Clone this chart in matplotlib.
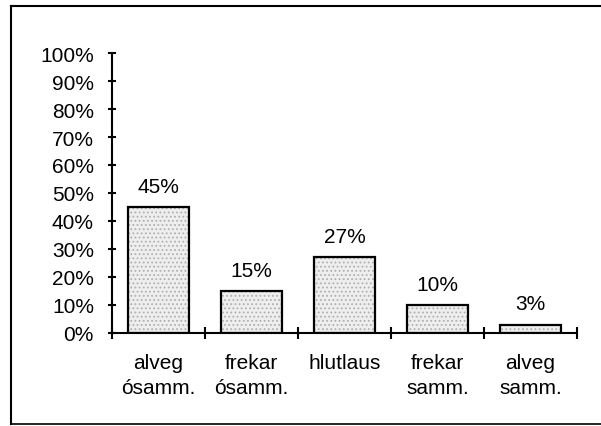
import matplotlib
matplotlib.use("Agg")
import matplotlib.pyplot as plt
from matplotlib.lines import Line2D

categories = ["alveg\nósamm.", "frekar\nósamm.", "hlutlaus", "frekar\nsamm.", "alveg\nsamm."]
values = [45, 15, 27, 10, 3]
value_labels = ["45%", "15%", "27%", "10%", "3%"]
yticks = [0, 10, 20, 30, 40, 50, 60, 70, 80, 90, 100]
ytick_labels = [f"{v}%" for v in yticks]

plt.rcParams['font.family'] = ['Liberation Sans', 'DejaVu Sans']
plt.rcParams['hatch.linewidth'] = 0.8
FS = 15

W, H = 601, 427
fig = plt.figure(figsize=(W / 100, H / 100), dpi=100)
fig.patch.set_facecolor("white")

# outer frame
fig.add_artist(Line2D([11 / W, 11 / W], [1 - 7 / H, 1 - 425 / H], color="black", lw=1.5))
fig.add_artist(Line2D([11 / W, 1.0], [1 - 7 / H, 1 - 7 / H], color="black", lw=1.5))
fig.add_artist(Line2D([11 / W, 1.0], [1 - 425 / H, 1 - 425 / H], color="black", lw=1.2))

x0, x1 = 112, 577
y0, y1 = 334, 54
ax = fig.add_axes([x0 / W, 1 - y0 / H, (x1 - x0) / W, (y0 - y1) / H])
ax.set_xlim(0, len(categories))
ax.set_ylim(0, 100)

positions = [i + 0.5 for i in range(len(categories))]
# stippled fill
ax.bar(positions, values, width=0.66, color="#eeeeee", edgecolor="#b0b0b0",
       hatch="....", linewidth=0, zorder=2)
# outlines
ax.bar(positions, values, width=0.66, color="none", edgecolor="black",
       linewidth=1.6, zorder=3)

for p, v, lab in zip(positions, values, value_labels):
    ax.annotate(lab, (p, v), xytext=(0, 15), textcoords="offset points",
                ha="center", va="center", fontsize=FS)

for s in ["top", "right"]:
    ax.spines[s].set_visible(False)
ax.spines["left"].set_linewidth(1.5)
ax.spines["bottom"].set_linewidth(1.5)
ax.spines["left"].set_zorder(4)
ax.spines["bottom"].set_zorder(4)

ax.set_yticks(yticks)
ax.set_yticklabels(ytick_labels, fontsize=FS)
ax.tick_params(axis="y", direction="inout", length=6, width=1.5, pad=10)

ax.set_xticks(range(len(categories) + 1))
ax.set_xticklabels([])
ax.tick_params(axis="x", direction="inout", length=9, width=1.5)
for p, c in zip(positions, categories):
    ax.text(p, -7, c, ha="center", va="top", fontsize=FS, linespacing=1.45,
            transform=ax.transData)

fig.savefig("out.png", dpi=100)
